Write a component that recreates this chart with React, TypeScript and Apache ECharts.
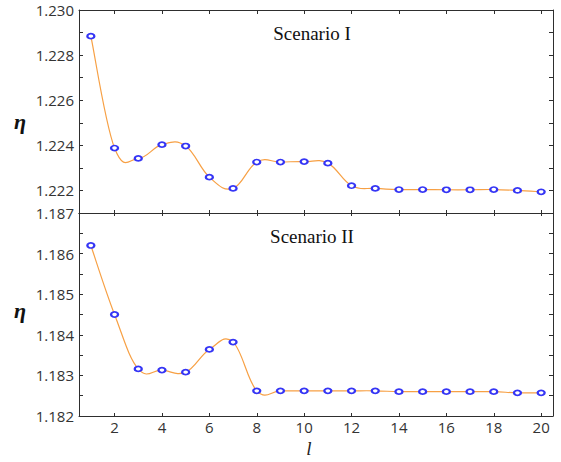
import React, { useEffect, useRef } from "react";
import * as echarts from "echarts";

const lValues = [1, 2, 3, 4, 5, 6, 7, 8, 9, 10, 11, 12, 13, 14, 15, 16, 17, 18, 19, 20];
const scenarioI = [
  1.22884, 1.22388, 1.22342, 1.22403, 1.22397, 1.22259, 1.22209, 1.22326, 1.22326, 1.22328,
  1.22321, 1.22221, 1.22209, 1.22204, 1.22204, 1.22203, 1.22203, 1.22204, 1.222, 1.22194,
];
const scenarioII = [
  1.1862, 1.1845, 1.18316, 1.18313, 1.18308, 1.18364, 1.18382, 1.18262, 1.18262, 1.18262,
  1.18262, 1.18262, 1.18262, 1.1826, 1.1826, 1.1826, 1.1826, 1.1826, 1.18257, 1.18257,
];
const xLabelValues = [2, 4, 6, 8, 10, 12, 14, 16, 18, 20];
const yLabelsI = [1.222, 1.224, 1.226, 1.228, 1.23];
const yLabelsII = [1.182, 1.183, 1.184, 1.185, 1.186, 1.187];
const titles = ["Scenario I", "Scenario II"];

const AXIS_COLOR = "#2e2e2e";
const LABEL_COLOR = "#333";
const LABEL_FONT = "Open Sans";
const LINE_COLOR = "#f7a044";
const MARK_COLOR = "#3535f5";
const TENSION = 0.2;

export default function App() {
  const ref = useRef<HTMLDivElement>(null);

  useEffect(() => {
    if (!ref.current) return;
    const chart = echarts.init(ref.current, undefined, { renderer: "svg" });

    const axisLine = { show: true, onZero: false, lineStyle: { color: AXIS_COLOR, width: 1 } };

    const xBase = (gridIndex: number, position: string, showLabel: boolean, tickLen: number) => ({
      type: "value",
      gridIndex,
      position,
      min: 0.5,
      max: 20.5,
      axisLine,
      splitLine: { show: false },
      axisTick: {
        show: true,
        inside: true,
        length: tickLen,
        customValues: xLabelValues,
        lineStyle: { color: AXIS_COLOR },
      },
      axisLabel: showLabel
        ? {
            show: true,
            customValues: xLabelValues,
            margin: 3,
            color: LABEL_COLOR,
            fontFamily: LABEL_FONT,
            fontSize: 15,
          }
        : { show: false },
    });

    const yBase = (
      gridIndex: number,
      position: string,
      min: number,
      max: number,
      interval: number,
      labels: number[] | null
    ) => ({
      type: "value",
      gridIndex,
      position,
      min,
      max,
      interval,
      axisLine,
      splitLine: { show: false },
      axisTick: { show: true, inside: true, length: 4, lineStyle: { color: AXIS_COLOR } },
      axisLabel: labels
        ? {
            show: true,
            customValues: labels,
            margin: 5,
            color: LABEL_COLOR,
            fontFamily: LABEL_FONT,
            fontSize: 15,
            formatter: (v: number) => v.toFixed(3),
          }
        : { show: false },
    });

    const curveSeries = (data: number[], idx: number) => ({
      type: "custom",
      xAxisIndex: idx * 2,
      yAxisIndex: idx * 2,
      silent: true,
      z: 2,
      data: [[lValues[0], data[0]]],
      renderItem: (_params: any, api: any) => {
        const pts = lValues.map((x, i) => api.coord([x, data[i]]));
        const n = pts.length;
        let d = `M${pts[0][0]},${pts[0][1]}`;
        for (let i = 0; i < n - 1; i++) {
          const p0 = pts[Math.max(i - 1, 0)];
          const p1 = pts[i];
          const p2 = pts[i + 1];
          const p3 = pts[Math.min(i + 2, n - 1)];
          const c1x = p1[0] + (p2[0] - p0[0]) * TENSION;
          const c1y = p1[1] + (p2[1] - p0[1]) * TENSION;
          const c2x = p2[0] - (p3[0] - p1[0]) * TENSION;
          const c2y = p2[1] - (p3[1] - p1[1]) * TENSION;
          d += ` C${c1x},${c1y} ${c2x},${c2y} ${p2[0]},${p2[1]}`;
        }
        return {
          type: "path",
          shape: { pathData: d },
          style: { fill: "none", stroke: LINE_COLOR, lineWidth: 1.2 },
        };
      },
    });

    const markerSeries = (data: number[], idx: number) => ({
      type: "scatter",
      xAxisIndex: idx * 2,
      yAxisIndex: idx * 2,
      data: lValues.map((x, i) => [x, data[i]]),
      symbol: "emptyCircle",
      symbolSize: [7, 5],
      itemStyle: { color: MARK_COLOR, borderColor: MARK_COLOR, borderWidth: 1.1, opacity: 1 },
      z: 3,
    });

    chart.setOption({
      animation: false,
      backgroundColor: "#fff",
      grid: [
        { left: 79, top: 10, width: 474, height: 203 },
        { left: 79, top: 213, width: 474, height: 203 },
      ],
      xAxis: [
        xBase(0, "bottom", false, 3),
        xBase(0, "top", false, 4),
        xBase(1, "bottom", true, 3),
        xBase(1, "top", false, 3),
      ],
      yAxis: [
        yBase(0, "left", 1.221, 1.23, 0.001, yLabelsI),
        yBase(0, "right", 1.221, 1.23, 0.001, null),
        yBase(1, "left", 1.182, 1.187, 0.0005, yLabelsII),
        yBase(1, "right", 1.182, 1.187, 0.0005, null),
      ],
      series: [
        curveSeries(scenarioI, 0),
        markerSeries(scenarioI, 0),
        curveSeries(scenarioII, 1),
        markerSeries(scenarioII, 1),
      ],
      graphic: [
        {
          type: "text",
          x: 312,
          y: 33,
          style: {
            text: titles[0],
            fontFamily: "Liberation Serif",
            fontSize: 19,
            fill: "#111",
            textAlign: "center",
            textVerticalAlign: "middle",
          },
        },
        {
          type: "text",
          x: 312,
          y: 236,
          style: {
            text: titles[1],
            fontFamily: "Liberation Serif",
            fontSize: 19,
            fill: "#111",
            textAlign: "center",
            textVerticalAlign: "middle",
          },
        },
        {
          type: "text",
          x: 20,
          y: 121,
          style: {
            text: "η",
            fontFamily: "Liberation Serif",
            fontStyle: "italic",
            fontWeight: "bold",
            fontSize: 22,
            fill: "#111",
            textAlign: "center",
            textVerticalAlign: "middle",
          },
        },
        {
          type: "text",
          x: 20,
          y: 310,
          style: {
            text: "η",
            fontFamily: "Liberation Serif",
            fontStyle: "italic",
            fontWeight: "bold",
            fontSize: 22,
            fill: "#111",
            textAlign: "center",
            textVerticalAlign: "middle",
          },
        },
        {
          type: "text",
          x: 309,
          y: 448,
          style: {
            text: "l",
            fontFamily: "Liberation Serif",
            fontStyle: "italic",
            fontSize: 19,
            fill: "#222",
            textAlign: "center",
            textVerticalAlign: "middle",
          },
        },
      ],
    });

    return () => chart.dispose();
  }, []);

  return (
    <div
      ref={ref}
      style={{ position: "absolute", left: 0, top: 0, width: 561, height: 462, background: "#fff" }}
    />
  );
}
